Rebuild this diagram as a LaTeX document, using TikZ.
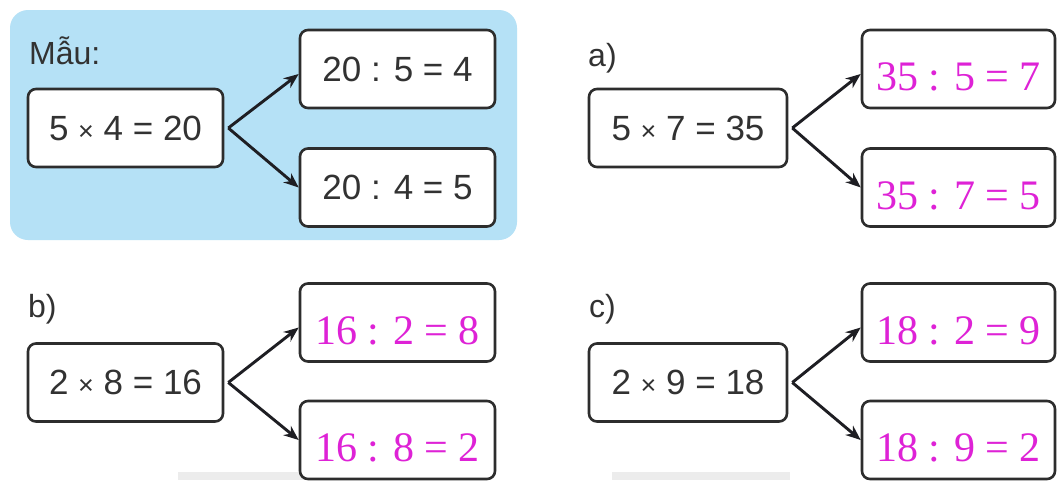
\documentclass[tikz,border=0pt]{standalone}
\usepackage{fontspec}
\setmainfont{Liberation Serif}
\setsansfont{Liberation Sans}
\usetikzlibrary{arrows.meta}
\definecolor{panelblue}{RGB}{181,225,246}
\definecolor{boxline}{RGB}{45,45,45}
\definecolor{txtgray}{RGB}{50,50,50}
\definecolor{answer}{RGB}{222,34,214}
\definecolor{arrowcol}{RGB}{30,30,35}
\definecolor{shadowgray}{RGB}{236,236,236}
\newcommand{\smx}{{\fontsize{27}{30}\selectfont ×}}
\tikzset{
  eqbox/.style={draw=boxline, line width=2.6pt, rounded corners=8pt, fill=white,
    minimum height=78pt, inner sep=0pt, text=txtgray,
    font=\sffamily\fontsize{35}{40}\selectfont},
  ansbox/.style={eqbox, text=answer},
  anstext/.style={font=\rmfamily\fontsize{42}{46}\selectfont, text=answer, inner sep=0pt},
  lbl/.style={anchor=base west, inner sep=0pt, text=txtgray,
    font=\sffamily\fontsize{32}{36}\selectfont},
  arr/.style={draw=arrowcol, line width=2.9pt, -{Stealth[length=15pt,width=12pt]}}
}
\begin{document}
\begin{tikzpicture}[x=1pt,y=-1pt]
\useasboundingbox (0,0) rectangle (1057,480);
\fill[white] (0,0) rectangle (1057,480);
% faint scan shadows
\fill[shadowgray] (178,472) rectangle (372,480);
\fill[shadowgray] (612,472) rectangle (790,480);
% blue panel
\fill[panelblue, rounded corners=18pt] (10,10) rectangle (517,240);

% ---- Sample
\node[lbl] (lm) at (29,64) {Mẫu:};
\node[eqbox, minimum width=195pt] (m0) at (125.5,128) {5 \smx{} 4 = 20};
\node[eqbox, minimum width=195pt] (m1) at (397.5,69) {20 : 5 = 4};
\node[eqbox, minimum width=195pt] (m2) at (397.5,187.5) {20 : 4 = 5};
\draw[arr] ([xshift=4pt]m0.east) -- ([yshift=-5pt]m1.west);
\draw[arr] ([xshift=4pt]m0.east) -- (m2.west);

% ---- a)
\node[lbl] (la) at (588,66) {a)};
\node[eqbox, minimum width=198pt] (a0) at (688,128) {5 \smx{} 7 = 35};
\node[ansbox, minimum width=193pt] (a1) at (958.5,69) {};
\node[ansbox, minimum width=193pt] (a2) at (958.5,187.5) {};
\node[anstext] (a1t) at ([yshift=-8pt]a1.center) {35 : 5 = 7};
\node[anstext] (a2t) at ([yshift=-8pt]a2.center) {35 : 7 = 5};
\draw[arr] ([xshift=4pt]a0.east) -- ([yshift=-5pt]a1.west);
\draw[arr] ([xshift=4pt]a0.east) -- (a2.west);

% ---- b)
\node[lbl] (lb) at (28,317) {b)};
\node[eqbox, minimum width=195pt] (b0) at (125.5,382.5) {2 \smx{} 8 = 16};
\node[ansbox, minimum width=195pt] (b1) at (397.5,322.5) {};
\node[ansbox, minimum width=195pt] (b2) at (397.5,440) {};
\node[anstext] (b1t) at ([yshift=-8pt]b1.center) {16 : 2 = 8};
\node[anstext] (b2t) at ([yshift=-8pt]b2.center) {16 : 8 = 2};
\draw[arr] ([xshift=4pt]b0.east) -- ([yshift=-5pt]b1.west);
\draw[arr] ([xshift=4pt]b0.east) -- (b2.west);

% ---- c)
\node[lbl] (lc) at (589,317) {c)};
\node[eqbox, minimum width=198pt] (c0) at (688,382.5) {2 \smx{} 9 = 18};
\node[ansbox, minimum width=193pt] (c1) at (958.5,322.5) {};
\node[ansbox, minimum width=193pt] (c2) at (958.5,440) {};
\node[anstext] (c1t) at ([yshift=-8pt]c1.center) {18 : 2 = 9};
\node[anstext] (c2t) at ([yshift=-8pt]c2.center) {18 : 9 = 2};
\draw[arr] ([xshift=4pt]c0.east) -- ([yshift=-5pt]c1.west);
\draw[arr] ([xshift=4pt]c0.east) -- (c2.west);
\end{tikzpicture}
\end{document}
